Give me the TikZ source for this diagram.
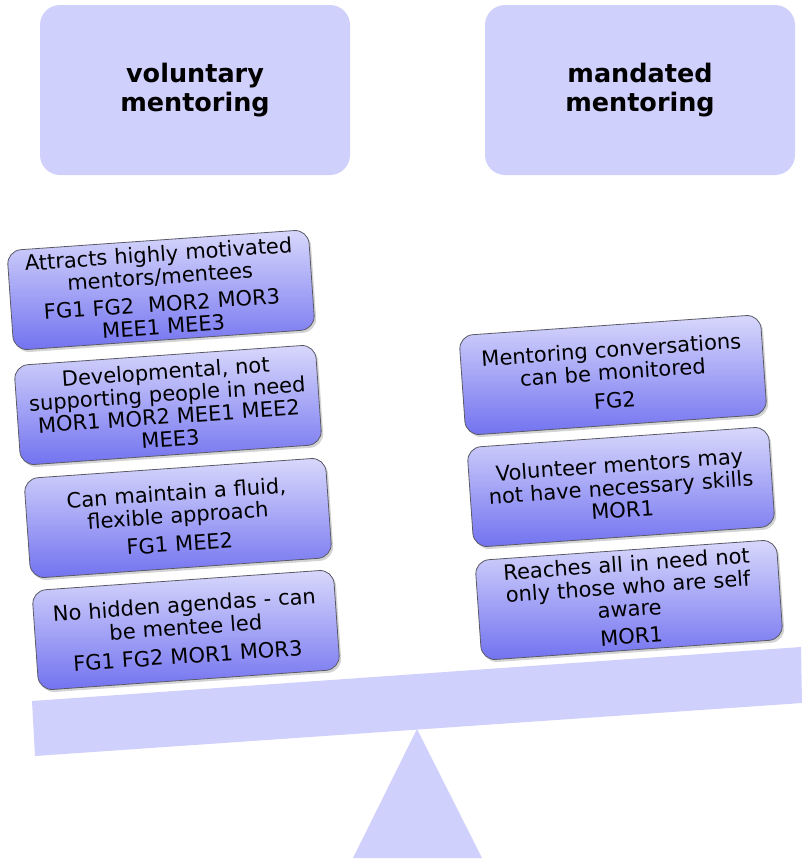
\documentclass[tikz,border=0pt]{standalone}
\usepackage{fontspec}
\setmainfont{DejaVu Sans}
\usetikzlibrary{shadows}
\definecolor{lav}{HTML}{D0D0FC}
\definecolor{boxtop}{HTML}{D8D8FC}
\definecolor{boxbot}{HTML}{7272F0}
\definecolor{boxedge}{HTML}{5A5A66}
\tikzset{
  header/.style={fill=lav, rounded corners=20pt, minimum width=310pt,
    minimum height=170pt, inner sep=0pt, align=center,
    font=\bfseries\fontsize{25.5}{29}\selectfont},
  reason/.style={rotate=4, rounded corners=14pt, draw=boxedge, line width=0.8pt,
    top color=boxtop, bottom color=boxbot, minimum width=302pt,
    minimum height=100pt, text width=300pt, inner sep=0pt, align=center,
    font=\fontsize{21}{22.5}\selectfont,
    drop shadow={shadow xshift=2pt, shadow yshift=-2.5pt, opacity=0.35}},
  plank/.style={fill=lav, draw=none},
}
\begin{document}
\begin{tikzpicture}[x=1pt,y=-1pt]
\useasboundingbox (0,0) rectangle (802,862);

% column headings
\node[header] (vol) at (195,90) {voluntary\\mentoring};
\node[header] (man) at (640,90) {mandated\\mentoring};

% beam and fulcrum of the balance
\fill[plank] (32,701) -- (801,647) -- (802,703) -- (35,756) -- cycle;
\fill[plank] (417,729) -- (482,858) -- (353,858) -- cycle;

% arguments for voluntary mentoring
\node[reason] (v1) at (161,290) {Attracts highly motivated\\mentors/mentees\\[5pt]FG1 FG2\ \ MOR2 MOR3\\MEE1 MEE3};
\node[reason] (v2) at (168,405) {Developmental, not\\supporting people in need\\MOR1 MOR2 MEE1 MEE2\\MEE3};
\node[reason] (v3) at (178,518) {Can maintain a fluid,\\flexible approach\\[6pt]FG1 MEE2};
\node[reason] (v4) at (186,630) {No hidden agendas - can\\be mentee led\\[6pt]FG1 FG2 MOR1 MOR3};

% arguments for mandated mentoring
\node[reason] (m1) at (613,375) {Mentoring conversations\\can be monitored\\[6pt]FG2};
\node[reason] (m2) at (621,487) {Volunteer mentors may\\not have necessary skills\\MOR1};
\node[reason] (m3) at (629,600) {Reaches all in need not\\only those who are self\\aware\\[5pt]MOR1};
\end{tikzpicture}
\end{document}
